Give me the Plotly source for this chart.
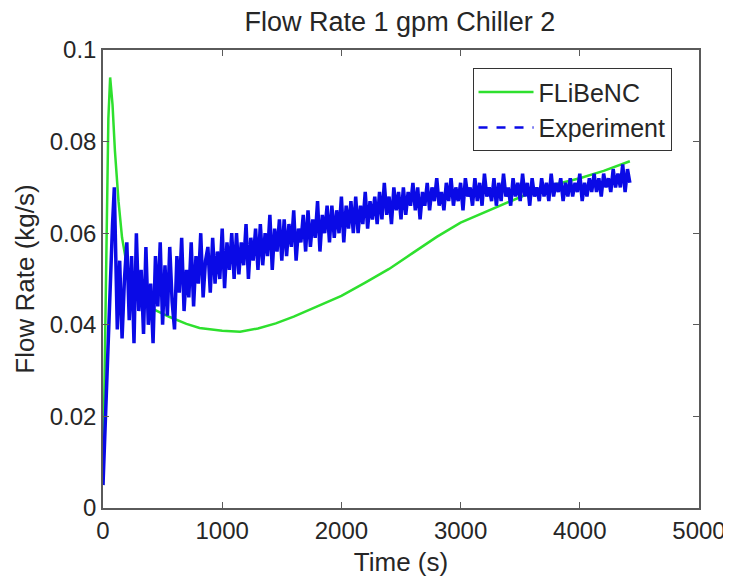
import plotly.graph_objects as go

# model result (FLiBeNC)
model_time = [0, 15, 30, 45, 60, 80, 100, 130, 160, 200, 250, 310, 400, 560, 700,
              810, 1000, 1150, 1300, 1450, 1600, 1800, 2000, 2200, 2400, 2600,
              2800, 3000, 3200, 3400, 3600, 3800, 4000, 4200, 4420]
model_flow = [0.005, 0.030, 0.060, 0.085, 0.094, 0.088, 0.078, 0.067, 0.059, 0.053,
              0.049, 0.046, 0.0437, 0.0417, 0.0402, 0.0393, 0.0387, 0.0385, 0.0392,
              0.0403, 0.0418, 0.0440, 0.0463, 0.0492, 0.0522, 0.0557, 0.0592, 0.0623,
              0.0645, 0.0667, 0.0690, 0.0707, 0.0720, 0.0736, 0.0757]

# experiment: start-up, then sampled every 20 s from 120 s
exp_time_start = [0, 20, 40, 60, 80, 95, 105]
exp_flow_start = [0.005, 0.020, 0.035, 0.050, 0.062, 0.070, 0.060]
exp_flow = [
    0.039, 0.054, 0.037, 0.050, 0.058, 0.041, 0.055, 0.036, 0.060, 0.043,
    0.052, 0.038, 0.057, 0.040, 0.049, 0.036, 0.055, 0.044, 0.058, 0.040,
    0.053, 0.042, 0.057, 0.045, 0.039, 0.055, 0.047, 0.059, 0.043, 0.052,
    0.046, 0.058, 0.044, 0.055, 0.049, 0.060, 0.046, 0.054, 0.057, 0.047,
    0.059, 0.049, 0.056, 0.050, 0.061, 0.048, 0.058, 0.052, 0.060, 0.050,
    0.060, 0.051, 0.058, 0.053, 0.062, 0.050, 0.059, 0.054, 0.061, 0.052,
    0.062, 0.053, 0.060, 0.055, 0.064, 0.052, 0.061, 0.056, 0.063, 0.054,
    0.063, 0.055, 0.062, 0.057, 0.065, 0.054, 0.061, 0.058, 0.064, 0.056,
    0.065, 0.057, 0.063, 0.059, 0.067, 0.056, 0.064, 0.060, 0.066, 0.058,
    0.066, 0.059, 0.065, 0.060, 0.068, 0.058, 0.066, 0.061, 0.067, 0.060,
    0.068, 0.060, 0.066, 0.062, 0.069, 0.061, 0.067, 0.063, 0.068, 0.062,
    0.069, 0.063, 0.071, 0.064, 0.068, 0.062, 0.070, 0.065, 0.069, 0.063,
    0.070, 0.064, 0.069, 0.066, 0.071, 0.065, 0.070, 0.063, 0.069, 0.066,
    0.071, 0.065, 0.070, 0.067, 0.072, 0.066, 0.069, 0.065, 0.071, 0.067,
    0.072, 0.066, 0.070, 0.067, 0.071, 0.065, 0.072, 0.068, 0.070, 0.066,
    0.072, 0.067, 0.071, 0.066, 0.073, 0.068, 0.070, 0.067, 0.072, 0.066,
    0.071, 0.067, 0.073, 0.068, 0.070, 0.066, 0.072, 0.068, 0.071, 0.067,
    0.073, 0.068, 0.071, 0.066, 0.072, 0.068, 0.070, 0.067, 0.072, 0.068,
    0.071, 0.067, 0.073, 0.068, 0.071, 0.069, 0.072, 0.067, 0.071, 0.068,
    0.072, 0.068, 0.071, 0.069, 0.073, 0.067, 0.071, 0.068, 0.072, 0.069,
    0.073, 0.069, 0.072, 0.068, 0.073, 0.070, 0.072, 0.069, 0.074, 0.070,
    0.073, 0.070, 0.075, 0.069, 0.074, 0.071,
]
exp_time = exp_time_start + list(range(120, 120 + 20 * len(exp_flow), 20))
exp_flow = exp_flow_start + exp_flow

x_ticks = [0, 1000, 2000, 3000, 4000, 5000]
y_ticks = [0, 0.02, 0.04, 0.06, 0.08, 0.1]
y_labels = ['0', '0.02', '0.04', '0.06', '0.08', '0.1']

blue = '#0a0ae6'

fig = go.Figure()
fig.add_trace(go.Scatter(x=model_time, y=model_flow, mode='lines', name='FLiBeNC',
                         line=dict(color='#2ee02e', width=2.5)))
# dense sampling makes the dashed experiment line read as a solid band
fig.add_trace(go.Scatter(x=exp_time, y=exp_flow, mode='lines', name='Experiment',
                         showlegend=False, line=dict(color=blue, width=3.5)))
fig.add_trace(go.Scatter(x=[None], y=[None], mode='lines', name='Experiment',
                         line=dict(color=blue, width=2.5, dash='dash')))

axis_style = dict(showline=True, linecolor='#5a5a5a', linewidth=1.5, mirror='ticks',
                  ticks='inside', ticklen=6, tickcolor='#5a5a5a', showgrid=False,
                  zeroline=False, automargin=False, ticklabeloverflow='allow',
                  tickfont=dict(size=24, color='#262626'))

# page body adds an 8px offset, so the figure is 8px smaller than the window
fig.update_layout(
    width=723, height=575,
    margin=dict(l=95, r=32, t=42, b=75),
    paper_bgcolor='white', plot_bgcolor='white',
    font=dict(family='Liberation Sans, Arial', color='#262626'),
    title=dict(text='Flow Rate 1 gpm Chiller 2', x=0.542, xanchor='center',
               y=0.976, yanchor='middle', font=dict(size=27)),
    xaxis=dict(range=[0, 5000], tickvals=x_ticks,
               title=dict(text='Time (s)', font=dict(size=26), standoff=10), **axis_style),
    yaxis=dict(range=[0, 0.1], tickvals=y_ticks, ticktext=y_labels,
               title=dict(text='Flow Rate (kg/s)', font=dict(size=26), standoff=8), **axis_style),
    legend=dict(x=0.62, y=0.96, xanchor='left', yanchor='top',
                bgcolor='white', bordercolor='#333333', borderwidth=1,
                font=dict(size=25), itemwidth=55, tracegroupgap=0),
    showlegend=True,
)

fig.write_html("out.html")
